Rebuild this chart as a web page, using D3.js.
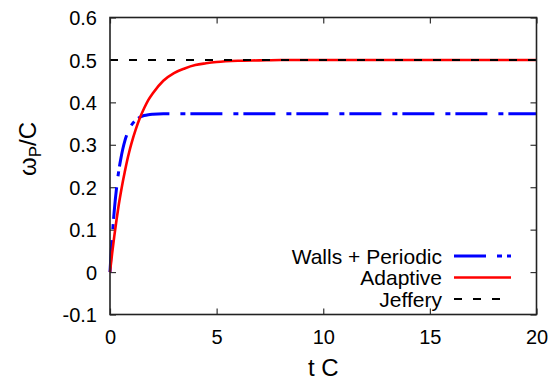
<!DOCTYPE html>
<html>
<head>
<meta charset="utf-8">
<script src="https://cdn.jsdelivr.net/npm/d3@7"></script>
<style>
  html, body { margin: 0; padding: 0; background: #fff; }
  svg { display: block; font-family: "Liberation Sans", Arial, Helvetica, sans-serif; }
</style>
</head>
<body>
<svg id="chart" width="552" height="380"></svg>
<script>
// Angular velocity of the particle, normalised by C, against dimensionless time t C
const wallsT = [0, 0.05, 0.1, 0.2, 0.3, 0.4, 0.5, 0.6, 0.7, 0.8, 0.9, 1.0, 1.2, 1.4, 1.6, 1.8, 2.0, 2.5, 3, 4, 6, 10, 15, 20];
const wallsW = [0, 0.045, 0.08, 0.145, 0.195, 0.235, 0.265, 0.29, 0.31, 0.325, 0.337, 0.346, 0.358, 0.365, 0.369, 0.371, 0.372, 0.373, 0.373, 0.373, 0.373, 0.373, 0.373, 0.373];

const adaptT = [0, 0.1, 0.2, 0.3, 0.4, 0.5, 0.6, 0.7, 0.8, 0.9, 1.0, 1.2, 1.4, 1.6, 1.8, 2.0, 2.5, 3, 3.5, 4, 4.5, 5, 6, 7, 8, 10, 12, 15, 20];
const adaptW = [0, 0.044, 0.084, 0.121, 0.155, 0.185, 0.213, 0.238, 0.262, 0.283, 0.302, 0.335, 0.363, 0.386, 0.406, 0.421, 0.451, 0.469, 0.48, 0.488, 0.492, 0.495, 0.498, 0.499, 0.5, 0.5, 0.5, 0.5, 0.5];

const jefferyT = [0, 20];
const jefferyW = [0.5, 0.5];

const xTicks = [0, 5, 10, 15, 20];
const yTicks = [-0.1, 0, 0.1, 0.2, 0.3, 0.4, 0.5, 0.6];

const seriesNames = ["Walls + Periodic", "Adaptive", "Jeffery"];
const seriesColors = ["#0000ff", "#ff0000", "#000000"];

const svg = d3.select("#chart");
const plotLeft = 110, plotRight = 536.5, plotTop = 17.5, plotBottom = 314.5;

const x = d3.scaleLinear().domain([0, 20]).range([plotLeft, plotRight]);
const y = d3.scaleLinear().domain([-0.1, 0.6]).range([plotBottom, plotTop]);

// plain hyphen for negatives, single decimal
const fmtY = v => (Math.abs(v) < 1e-9 ? "0" : v.toFixed(1));
const tickLen = 6;
const tickFont = "20px";

// Frame ticks, drawn inward on all four sides
const axesG = svg.append("g");
const mkAxis = (gen, tx, ty, labels) => {
  const g = axesG.append("g").attr("transform", `translate(${tx},${ty})`).call(gen);
  g.select(".domain").remove();
  g.selectAll("line").attr("stroke", "#333").attr("stroke-width", 1.2);
  g.selectAll("text").attr("fill", "#000").style("font-size", tickFont);
  if (!labels) g.selectAll("text").remove();
  return g;
};
const gb = mkAxis(d3.axisBottom(x).tickValues(xTicks).tickSize(-tickLen).tickFormat(d3.format("d")), 0, plotBottom, true);
gb.selectAll("text").attr("dy", "0.71em").attr("y", 15);
mkAxis(d3.axisTop(x).tickValues(xTicks).tickSize(-tickLen), 0, plotTop, false);
const gl = mkAxis(d3.axisLeft(y).tickValues(yTicks).tickSize(-tickLen).tickFormat(fmtY), plotLeft, 0, true);
gl.selectAll("text").attr("x", -13).attr("dy", "0.36em");
mkAxis(d3.axisRight(y).tickValues(yTicks).tickSize(-tickLen), plotRight, 0, false);

// Curves
const line = d3.line().x(d => x(d[0])).y(d => y(d[1])).curve(d3.curveMonotoneX);
const plotG = svg.append("g");
const series = [
  { t: wallsT, w: wallsW, dash: "32,11,5,5", width: 3 },
  { t: adaptT, w: adaptW, dash: null, width: 2.6 },
  { t: jefferyT, w: jefferyW, dash: "8,11", width: 2 }
];
series.forEach((s, i) => {
  plotG.append("path")
    .datum(s.t.map((tv, k) => [tv, s.w[k]]))
    .attr("d", line)
    .attr("fill", "none")
    .attr("stroke", seriesColors[i])
    .attr("stroke-width", s.width)
    .attr("stroke-dasharray", s.dash);
});

// Border
svg.append("rect")
  .attr("x", plotLeft).attr("y", plotTop)
  .attr("width", plotRight - plotLeft).attr("height", plotBottom - plotTop)
  .attr("fill", "none").attr("stroke", "#222").attr("stroke-width", 1.6);

// Legend
const legG = svg.append("g");
const legY = [256, 277.5, 299];
seriesNames.forEach((name, i) => {
  legG.append("text")
    .attr("x", 442).attr("y", legY[i]).attr("dy", "0.36em")
    .attr("text-anchor", "end").style("font-size", "21px").text(name);
  const s = series[i];
  legG.append("line")
    .attr("x1", 454).attr("x2", 511).attr("y1", legY[i]).attr("y2", legY[i])
    .attr("stroke", seriesColors[i]).attr("stroke-width", s.width)
    .attr("stroke-dasharray", s.dash);
});

// Axis titles
svg.append("text")
  .attr("x", (plotLeft + plotRight) / 2).attr("y", 376)
  .attr("text-anchor", "middle").style("font-size", "24px").text("t C");

const yl = svg.append("text")
  .attr("transform", `translate(36,149) rotate(-90)`)
  .attr("text-anchor", "middle").style("font-size", "24px");
yl.append("tspan").text("\u03c9");
yl.append("tspan").attr("dy", "0.3em").style("font-size", "17px").text("P");
yl.append("tspan").attr("dy", "-0.22em").text("/C");
</script>
</body>
</html>
